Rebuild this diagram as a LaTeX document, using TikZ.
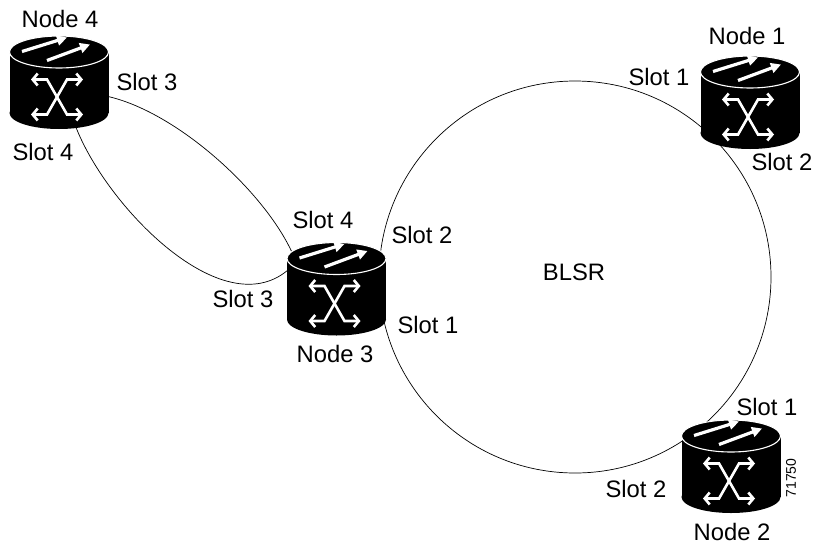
\documentclass[tikz,border=0pt]{standalone}
\usepackage{fontspec}
\setmainfont{Liberation Sans}
\usetikzlibrary{arrows.meta}
\tikzset{
  routerbox/.style={minimum width=99pt, minimum height=93pt, inner sep=0pt, draw=none},
  lbl/.style={font=\fontsize{23.8}{28}\selectfont, anchor=base, inner sep=0pt},
  link/.style={line width=0.7pt, draw=black},
  topar/.style={white, line width=3.2pt, -{Triangle[length=10pt,width=10pt]}},
  xar/.style={white, line width=2.6pt, line join=miter, {Straight Barb[length=5pt,width=12pt]}-{Straight Barb[length=5pt,width=12pt]}},
  router/.pic={
    \fill[black] (-49.5,-30.5) rectangle (49.5,30.5);
    \fill[black] (0,-30.5) ellipse[x radius=49.5pt, y radius=16pt];
    \fill[black] (0,30.5) ellipse[x radius=49.5pt, y radius=16pt];
    \draw[white, line width=1.1pt] (0,-30.5) ellipse[x radius=49.5pt, y radius=16pt];
    \draw[topar] (-37,-31) -- (8,-45);
    \draw[topar] (-12,-22) -- (31,-38);
    \draw[xar] (-28,-3) -- (-12,-3) -- (8,32) -- (24,32);
    \draw[xar] (24,-3) -- (8,-3) -- (-12,32) -- (-28,32);
  }
}
\begin{document}
\begin{tikzpicture}[x=1pt,y=-1pt]
\useasboundingbox (0,0) rectangle (816,544);
% node placeholders
\node[routerbox] (n4) at (59,82.5) {};
\node[routerbox] (n3) at (336.5,289) {};
\node[routerbox] (n1) at (750,102.5) {};
\node[routerbox] (n2) at (731,466.5) {};
% ring
\node[draw, circle, line width=0.7pt, minimum size=392pt, inner sep=0pt] (ring) at (575,277) {};
% links between node 4 and node 3
\draw[link] ([shift={(44.2,13)}]n4.center) .. controls +(68.8,12.8) and +(-29.6,-63.4) .. ([shift={(-44.8,-37.3)}]n3.center);
\draw[link] ([shift={(16.6,43.8)}]n4.center) .. controls +(30.4,79.4) and +(-66.1,55.7) .. ([shift={(-48.5,-19)}]n3.center);
% icons
\pic at (n4.center) {router};
\pic at (n3.center) {router};
\pic at (n1.center) {router};
\pic at (n2.center) {router};
% labels
\node[lbl] (l4) at (60,27) {Node 4};
\node[lbl] (l4s3) at (147,90) {Slot 3};
\node[lbl] (l4s4) at (43,160) {Slot 4};
\node[lbl] (l3s4) at (323,228) {Slot 4};
\node[lbl] (l3s2) at (422,243) {Slot 2};
\node[lbl] (l3s3) at (243,307) {Slot 3};
\node[lbl] (l3s1) at (428,333) {Slot 1};
\node[lbl] (l3) at (335,362) {Node 3};
\node[lbl] (blsr) at (574,280) {BLSR};
\node[lbl] (l1) at (747,44) {Node 1};
\node[lbl] (l1s1) at (659,85) {Slot 1};
\node[lbl] (l1s2) at (782,170) {Slot 2};
\node[lbl] (l2s1) at (767,415) {Slot 1};
\node[lbl] (l2s2) at (636,497) {Slot 2};
\node[lbl] (l2) at (732,540) {Node 2};
\node[font=\fontsize{14}{16}\selectfont, rotate=90, inner sep=0pt] (fig) at (791,478) {71750};
\end{tikzpicture}
\end{document}
